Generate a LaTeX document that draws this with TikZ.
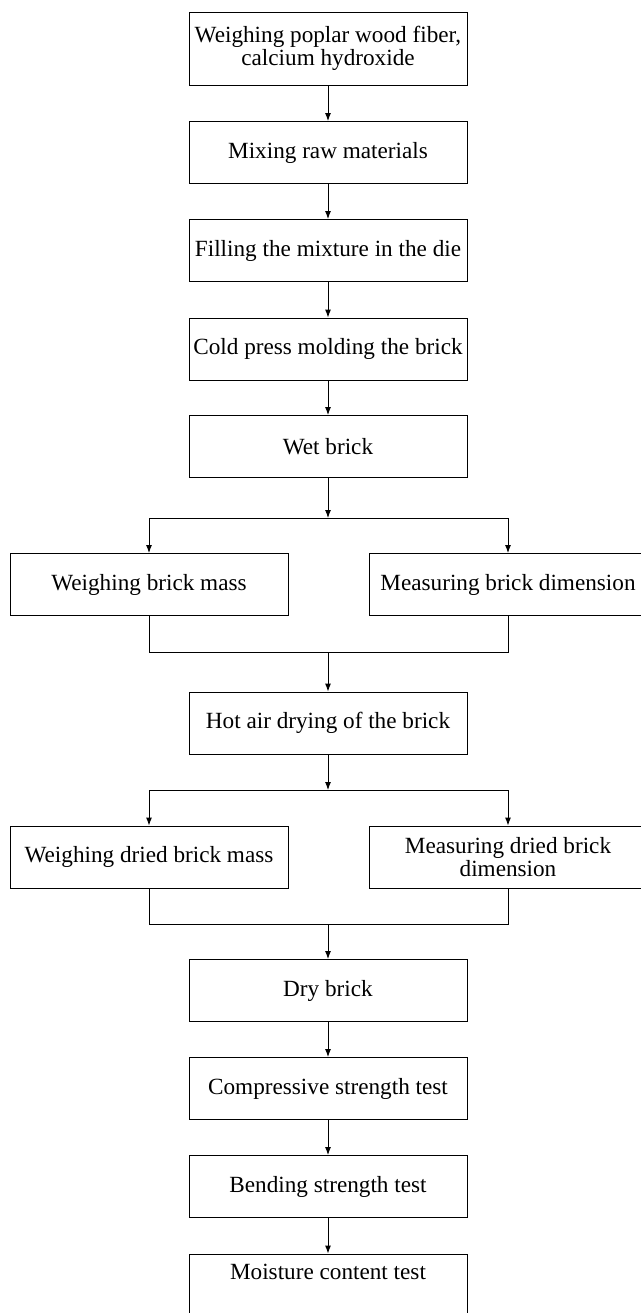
\documentclass[tikz,border=0pt]{standalone}
\usepackage{fontspec}
\setmainfont{Liberation Serif}
\usetikzlibrary{arrows.meta, positioning}

\begin{document}
\begin{tikzpicture}[x=0.75pt, y=-0.75pt,
    stepbox/.style={draw, line width=0.7pt, minimum width=208.5pt, minimum height=46.5pt,
      inner sep=0pt, align=center, font=\fontsize{17.4}{17.3}\selectfont},
    flow/.style={-{Latex[length=6pt,width=4.5pt]}, line width=0.7pt},
    link/.style={line width=0.7pt}]
  \useasboundingbox (0,0) rectangle (640,1313);

  % Preparation of the brick
  \node[stepbox, minimum height=54.75pt] (weigh) at (328,48.5) {Weighing poplar wood fiber,\\calcium hydroxide};
  \node[stepbox] (mix) at (328,152.5) {Mixing raw materials};
  \node[stepbox] (fill) at (328,250.5) {Filling the mixture in the die};
  \node[stepbox] (press) at (328,349) {Cold press molding the brick};
  \node[stepbox] (wet) at (328,446.5) {Wet brick};

  % Wet brick measurements
  \node[stepbox] (massA) at (149,584.5) {Weighing brick mass};
  \node[stepbox] (sizeA) at (508,584.5) {Measuring brick dimension};
  \node[stepbox] (hot) at (328,723) {Hot air drying of the brick};

  % Dried brick measurements
  \node[stepbox] (massB) at (149,857) {Weighing dried brick mass};
  \node[stepbox] (sizeB) at (508,857) {Measuring dried brick\\dimension};

  % Tests
  \node[stepbox] (dry) at (328,990.5) {Dry brick};
  \node[stepbox] (comp) at (328,1088.5) {Compressive strength test};
  \node[stepbox] (bend) at (328,1186.5) {Bending strength test};
  \node[stepbox, text depth=19.5pt] (moist) at (328,1285) {Moisture content test};

  \coordinate (split1) at (328,518);
  \coordinate (join1) at (328,652);
  \coordinate (split2) at (328,790);
  \coordinate (join2) at (328,924);

  % Connectors
  \draw[flow] (weigh) -- (mix);
  \draw[flow] (mix) -- (fill);
  \draw[flow] (fill) -- (press);
  \draw[flow] (press) -- (wet);

  \draw[flow] (wet) -- (split1);
  \draw[flow] (split1) -| (massA);
  \draw[flow] (split1) -| (sizeA);
  \draw[link] (massA) |- (join1);
  \draw[link] (sizeA) |- (join1);
  \draw[flow] (join1) -- (hot);

  \draw[flow] (hot) -- (split2);
  \draw[flow] (split2) -| (massB);
  \draw[flow] (split2) -| (sizeB);
  \draw[link] (massB) |- (join2);
  \draw[link] (sizeB) |- (join2);
  \draw[flow] (join2) -- (dry);

  \draw[flow] (dry) -- (comp);
  \draw[flow] (comp) -- (bend);
  \draw[flow] (bend) -- (moist);
\end{tikzpicture}
\end{document}
